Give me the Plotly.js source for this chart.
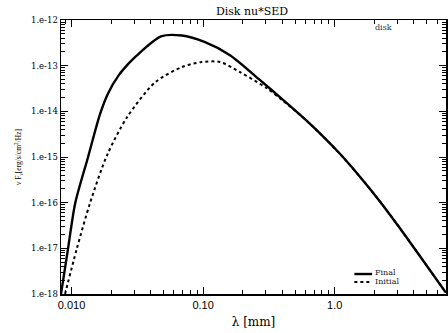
<!DOCTYPE html>
<html>
<head>
<meta charset="utf-8">
<script src="https://cdn.plot.ly/plotly-3.0.1.min.js"></script>
<style>html,body{margin:0;padding:0;background:#fff;}#chart{width:448px;height:333px;}</style>
</head>
<body>
<div id="chart"></div>
<script>
// wavelength in mm, nu*F_nu in erg/s/cm^2/Hz
var finalLambda = [0.00832, 0.0094, 0.01067, 0.01335, 0.01647, 0.01895, 0.02281, 0.02689, 0.0304, 0.0479, 0.0689, 0.1035, 0.160, 0.271, 0.405, 0.547, 0.776, 1.10, 1.56, 2.22, 3.15, 4.09, 7.01];
var finalFlux   = [1.0e-18, 9.6e-18, 9.75e-17, 9.9e-16, 8.7e-15, 2.47e-14, 6.12e-14, 1.08e-13, 1.54e-13, 4.38e-13, 4.57e-13, 3.27e-13, 1.70e-13, 4.82e-14, 1.79e-14, 8.36e-15, 3.25e-15, 1.16e-15, 3.65e-16, 1.04e-16, 2.69e-17, 9.42e-18, 1.06e-18];
var initLambda  = [0.00893, 0.01095, 0.01382, 0.01862, 0.02642, 0.04315, 0.0689, 0.0977, 0.1346, 0.191, 0.305, 0.405, 0.547, 0.776, 1.10, 1.56, 2.22, 3.15, 4.09, 7.01];
var initFlux    = [1.0e-18, 9.6e-18, 9.75e-17, 1.09e-15, 7.4e-15, 4.3e-14, 9.3e-14, 1.2e-13, 1.2e-13, 7.2e-14, 3.2e-14, 1.7e-14, 8.3e-15, 3.25e-15, 1.16e-15, 3.65e-16, 1.04e-16, 2.69e-17, 9.42e-18, 1.06e-18];
var xTickVals = [0.01, 0.1, 1];
var xTickText = ['0.010', '0.10', '1.0'];
var yTickVals = [1e-18, 1e-17, 1e-16, 1e-15, 1e-14, 1e-13, 1e-12];
var yTickText = ['1.e-18', '1.e-17', '1.e-16', '1.e-15', '1.e-14', '1.e-13', '1.e-12'];
var seriesNames = ['Final', 'Initial'];

var traces = [
  {x: finalLambda, y: finalFlux, mode: 'lines', name: seriesNames[0],
   line: {color: 'black', width: 2.4, shape: 'spline', smoothing: 0.8}},
  {x: initLambda, y: initFlux, mode: 'lines', name: seriesNames[1],
   line: {color: 'black', width: 2, dash: 'dot', shape: 'spline', smoothing: 0.8}}
];

var serif = 'DejaVu Serif, serif';
var layout = {
  width: 448, height: 333,
  margin: {l: 61, r: 2.3, t: 19.5, b: 39},
  paper_bgcolor: '#fff', plot_bgcolor: '#fff',
  showlegend: false,
  title: {text: 'Disk nu*SED', font: {family: serif, size: 11, color: '#000'}, x: 0.5625, xanchor: 'center', y: 0.967, yanchor: 'middle'},
  xaxis: {
    type: 'log', range: [-2.0798, 0.8456],
    showline: true, linecolor: '#000', linewidth: 1.5, mirror: 'ticks',
    ticks: 'inside', ticklen: 7, tickwidth: 1, tickcolor: '#000',
    tickmode: 'array', tickvals: xTickVals, ticktext: xTickText,
    tickfont: {family: 'Liberation Sans, Arial, sans-serif', size: 11, color: '#000'},
    minor: {ticks: 'inside', ticklen: 4, tickwidth: 1, tickcolor: '#000', dtick: 'D1', showgrid: false},
    showgrid: false, zeroline: false,
    title: {text: 'λ [mm]', font: {family: serif, size: 12, color: '#000'}, standoff: 8}
  },
  yaxis: {
    type: 'log', range: [-18, -12],
    showline: true, linecolor: '#000', linewidth: 1.5, mirror: 'ticks',
    ticks: 'inside', ticklen: 7, tickwidth: 1, tickcolor: '#000',
    tickmode: 'array', tickvals: yTickVals, ticktext: yTickText,
    tickfont: {family: serif, size: 8.5, color: '#000'},
    minor: {ticks: 'inside', ticklen: 4, tickwidth: 1, tickcolor: '#000', dtick: 'D1', showgrid: false},
    showgrid: false, zeroline: false,
    title: {text: 'ν F<sub>ν</sub>[erg/s/cm<sup>2</sup>/Hz]', font: {family: 'Liberation Serif, serif', size: 7.5, color: '#000'}, standoff: 8}
  },
  shapes: [
    {type: 'line', xref: 'paper', yref: 'paper', x0: 0.762, x1: 0.808, y0: 0.0729, y1: 0.0729, line: {color: '#000', width: 2.4}},
    {type: 'line', xref: 'paper', yref: 'paper', x0: 0.762, x1: 0.808, y0: 0.0437, y1: 0.0437, line: {color: '#000', width: 2, dash: 'dot'}}
  ],
  annotations: [
    {text: seriesNames[0], xref: 'paper', yref: 'paper', x: 0.811, y: 0.080, xanchor: 'left', yanchor: 'middle', showarrow: false, font: {family: serif, size: 8, color: '#222'}},
    {text: seriesNames[1], xref: 'paper', yref: 'paper', x: 0.811, y: 0.047, xanchor: 'left', yanchor: 'middle', showarrow: false, font: {family: serif, size: 8, color: '#222'}},
    {text: 'disk', xref: 'paper', yref: 'paper', x: 0.837, y: 0.972, xanchor: 'center', yanchor: 'middle', showarrow: false, font: {family: serif, size: 8, color: '#333'}}
  ]
};

Plotly.newPlot('chart', traces, layout, {displayModeBar: false, staticPlot: true});
</script>
</body>
</html>
